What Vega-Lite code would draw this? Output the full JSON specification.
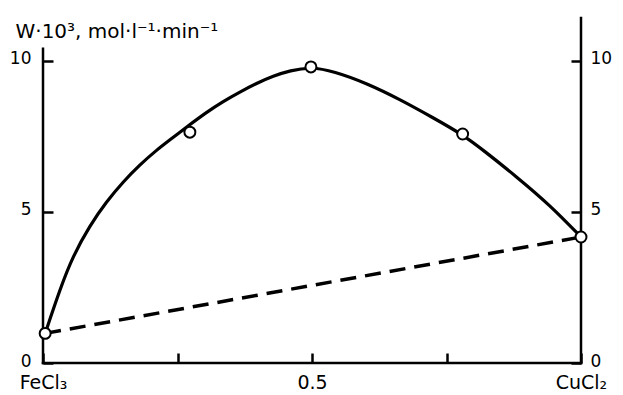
{
  "$schema": "https://vega.github.io/schema/vega-lite/v6.json",
  "width": 538,
  "height": 345,
  "autosize": "none",
  "padding": {"left": 43, "top": 18, "right": 42, "bottom": 32},
  "background": "white",
  "config": {
    "view": {"stroke": null},
    "font": "DejaVu Sans",
    "axis": {
      "grid": false,
      "domain": false,
      "tickColor": "black",
      "tickWidth": 2.5,
      "tickSize": -10,
      "labelColor": "black",
      "labelFontSize": 17,
      "labelFont": "DejaVu Sans",
      "titleColor": "black",
      "titleFont": "DejaVu Sans",
      "titleFontWeight": "normal"
    }
  },
  "datasets": {
    "curve": [
      {"x": 0.004, "w": 0.98},
      {"x": 0.032, "w": 2.47},
      {"x": 0.056, "w": 3.55},
      {"x": 0.087, "w": 4.55},
      {"x": 0.118, "w": 5.34},
      {"x": 0.149, "w": 6.0},
      {"x": 0.18, "w": 6.56},
      {"x": 0.211, "w": 7.05},
      {"x": 0.242, "w": 7.47},
      {"x": 0.267, "w": 7.81},
      {"x": 0.304, "w": 8.3},
      {"x": 0.335, "w": 8.66},
      {"x": 0.366, "w": 8.97},
      {"x": 0.397, "w": 9.26},
      {"x": 0.428, "w": 9.5},
      {"x": 0.459, "w": 9.68},
      {"x": 0.498, "w": 9.8},
      {"x": 0.54, "w": 9.66},
      {"x": 0.602, "w": 9.26},
      {"x": 0.664, "w": 8.72},
      {"x": 0.725, "w": 8.12},
      {"x": 0.78, "w": 7.56},
      {"x": 0.818, "w": 7.05},
      {"x": 0.88, "w": 6.17},
      {"x": 0.942, "w": 5.23},
      {"x": 1, "w": 4.17}
    ],
    "dashed": [
      {"x": 0.004, "w": 0.98},
      {"x": 1, "w": 4.17}
    ],
    "points": [
      {"x": 0.004, "w": 0.98},
      {"x": 0.273, "w": 7.64},
      {"x": 0.498, "w": 9.8},
      {"x": 0.78, "w": 7.58},
      {"x": 1, "w": 4.17}
    ]
  },
  "layer": [
    {
      "data": {"name": "curve"},
      "mark": {"type": "line", "interpolate": "basis", "color": "black", "strokeWidth": 3.2},
      "encoding": {
        "x": {
          "field": "x", "type": "quantitative",
          "scale": {"domain": [0, 1], "nice": false},
          "axis": {
            "orient": "bottom",
            "title": null,
            "values": [0, 0.25, 0.5, 0.75, 1],
            "labelExpr": "datum.value == 0 ? 'FeCl₃' : datum.value == 1 ? 'CuCl₂' : datum.value == 0.5 ? '0.5' : ''",
            "labelFlush": false,
            "labelPadding": 20,
            "labelFontSize": 19,
            "labelBaseline": "top"
          }
        },
        "y": {
          "field": "w", "type": "quantitative",
          "scale": {"domain": [0, 11.42], "nice": false, "zero": true},
          "axis": {
            "orient": "left",
            "values": [0, 5, 10],
            "labelPadding": 22,
            "labelOffset": -2,
            "title": "W·10³, mol·l⁻¹·min⁻¹",
            "titleAngle": 0,
            "titleAlign": "left",
            "titleBaseline": "alphabetic",
            "titleFontSize": 20,
            "titleX": -28,
            "titleY": 19
          }
        }
      }
    },
    {
      "data": {"name": "dashed"},
      "mark": {"type": "line", "color": "black", "strokeWidth": 3.5, "strokeDash": [16, 9]},
      "encoding": {
        "x": {"field": "x", "type": "quantitative"},
        "y": {
          "field": "w", "type": "quantitative",
          "axis": {
            "orient": "right",
            "values": [0, 5, 10],
            "labelPadding": 19,
            "labelOffset": -2,
            "title": null
          }
        }
      }
    },
    {
      "data": {"values": [{}]},
      "mark": {"type": "rule", "color": "black", "strokeWidth": 2.5, "strokeCap": "square"},
      "encoding": {
        "x": {"datum": 0, "type": "quantitative"},
        "y": {"datum": 0, "type": "quantitative", "axis": null},
        "y2": {"datum": 10.4}
      }
    },
    {
      "data": {"values": [{}]},
      "mark": {"type": "rule", "color": "black", "strokeWidth": 2.5, "strokeCap": "square"},
      "encoding": {
        "x": {"datum": 1, "type": "quantitative"},
        "y": {"datum": 0, "type": "quantitative", "axis": null},
        "y2": {"datum": 11.42}
      }
    },
    {
      "data": {"values": [{}]},
      "mark": {"type": "rule", "color": "black", "strokeWidth": 2.5, "strokeCap": "square"},
      "encoding": {
        "x": {"datum": 0, "type": "quantitative"},
        "x2": {"datum": 1},
        "y": {"datum": 0, "type": "quantitative", "axis": null}
      }
    },
    {
      "data": {"name": "points"},
      "mark": {"type": "point", "shape": "circle", "filled": true, "fill": "white", "stroke": "black", "strokeWidth": 2, "size": 120, "opacity": 1},
      "encoding": {
        "x": {"field": "x", "type": "quantitative"},
        "y": {"field": "w", "type": "quantitative", "axis": null}
      }
    }
  ],
  "resolve": {"axis": {"y": "independent"}}
}
